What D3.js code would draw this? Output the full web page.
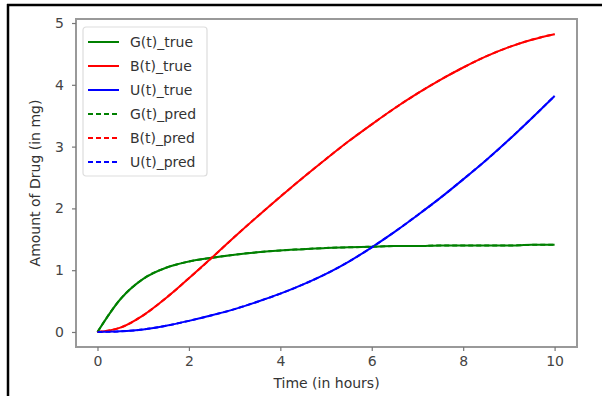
<!DOCTYPE html>
<html>
<head>
<meta charset="utf-8">
<script src="https://cdn.jsdelivr.net/npm/d3@7"></script>
<style>
  body { margin: 0; background: #fff; }
  svg { display: block; }
  text { font-family: "DejaVu Sans", sans-serif; }
</style>
</head>
<body>
<div id="chart"></div>
<script>
// time axis (hours)
const times = [0, 0.5, 1, 1.5, 2, 2.5, 3, 3.5, 4, 4.5, 5, 5.5, 6, 6.5, 7, 7.5, 8, 8.5, 9, 9.5, 10];

// amounts (mg)
const gTrue = [0, 0.53, 0.86, 1.04, 1.14, 1.20, 1.25, 1.29, 1.32, 1.34, 1.36, 1.37, 1.38, 1.39, 1.39, 1.40, 1.40, 1.40, 1.40, 1.41, 1.41];
const bTrue = [0, 0.07, 0.27, 0.55, 0.87, 1.20, 1.54, 1.87, 2.19, 2.50, 2.80, 3.09, 3.36, 3.62, 3.86, 4.08, 4.28, 4.46, 4.61, 4.73, 4.82];
const uTrue = [0, 0.01, 0.04, 0.10, 0.18, 0.27, 0.37, 0.49, 0.62, 0.77, 0.94, 1.14, 1.37, 1.62, 1.89, 2.17, 2.47, 2.78, 3.11, 3.46, 3.82];
const gPred = [0, 0.53, 0.86, 1.04, 1.14, 1.20, 1.25, 1.29, 1.32, 1.34, 1.36, 1.37, 1.38, 1.39, 1.39, 1.40, 1.40, 1.40, 1.40, 1.41, 1.41];
const bPred = [0, 0.07, 0.27, 0.55, 0.87, 1.20, 1.54, 1.87, 2.19, 2.50, 2.80, 3.09, 3.36, 3.62, 3.86, 4.08, 4.28, 4.46, 4.61, 4.73, 4.82];
const uPred = [0, 0.01, 0.04, 0.10, 0.18, 0.27, 0.37, 0.49, 0.62, 0.77, 0.94, 1.14, 1.37, 1.62, 1.89, 2.17, 2.47, 2.78, 3.11, 3.46, 3.82];

const xTicks = [0, 2, 4, 6, 8, 10];
const yTicks = [0, 1, 2, 3, 4, 5];

const series = [
  {name: "G(t)_true", values: gTrue, color: "#008000", dash: null},
  {name: "B(t)_true", values: bTrue, color: "#ff0000", dash: null},
  {name: "U(t)_true", values: uTrue, color: "#0000ff", dash: null},
  {name: "G(t)_pred", values: gPred, color: "#008000", dash: "5,3"},
  {name: "B(t)_pred", values: bPred, color: "#ff0000", dash: "5,3"},
  {name: "U(t)_pred", values: uPred, color: "#0000ff", dash: "5,3"}
];

const W = 602, H = 396;
const margin = {top: 19, right: 25, bottom: 49, left: 76};
const width = W - margin.left - margin.right,
      height = H - margin.top - margin.bottom;

const svg = d3.select("#chart").append("svg")
  .attr("width", W)
  .attr("height", H);

// black frame (top & left edge of the screenshot)
svg.append("line").attr("x1", 7).attr("x2", W).attr("y1", 5).attr("y2", 5)
  .attr("stroke", "#000").attr("stroke-width", 2.5);
svg.append("line").attr("x1", 8).attr("x2", 8).attr("y1", 4).attr("y2", H)
  .attr("stroke", "#000").attr("stroke-width", 2.5);

const g = svg.append("g")
  .attr("transform", "translate(" + margin.left + "," + margin.top + ")");

const x = d3.scaleLinear().domain([-0.47, 10.49]).range([0, width]);
const y = d3.scaleLinear().domain([-0.243, 5.065]).range([height, 0]);

const line = (vals) => d3.line()
  .x((d, i) => x(times[i]))
  .y(d => y(d))
  .curve(d3.curveMonotoneX)(vals);

series.forEach(s => {
  g.append("path")
    .attr("d", line(s.values))
    .attr("fill", "none")
    .attr("stroke", s.color)
    .attr("stroke-width", 2)
    .attr("stroke-dasharray", s.dash);
});

// frame
g.append("rect")
  .attr("width", width).attr("height", height)
  .attr("fill", "none").attr("stroke", "#999").attr("stroke-width", 2);

const xAxis = g.append("g")
  .attr("transform", "translate(0," + height + ")")
  .call(d3.axisBottom(x).tickValues(xTicks).tickSize(4).tickPadding(5).tickFormat(d3.format("d")));
const yAxis = g.append("g")
  .call(d3.axisLeft(y).tickValues(yTicks).tickSize(4).tickPadding(8).tickFormat(d3.format("d")));

[xAxis, yAxis].forEach(a => {
  a.select(".domain").remove();
  a.selectAll(".tick line").attr("stroke", "#777").attr("stroke-width", 1.2);
  a.selectAll(".tick text").attr("fill", "#444").style("font-size", "14px");
});

g.append("text")
  .attr("x", width / 2).attr("y", height + 41)
  .attr("text-anchor", "middle").attr("fill", "#333")
  .style("font-size", "14px")
  .text("Time (in hours)");

g.append("text")
  .attr("transform", "translate(" + (-36) + "," + (height / 2) + ") rotate(-90)")
  .attr("text-anchor", "middle").attr("fill", "#333")
  .style("font-size", "14px")
  .text("Amount of Drug (in mg)");

// legend
const legend = g.append("g").attr("transform", "translate(7,8)");
legend.append("rect")
  .attr("width", 124).attr("height", 149).attr("rx", 3)
  .attr("fill", "#fff").attr("fill-opacity", 0.8)
  .attr("stroke", "#ddd").attr("stroke-width", 1.2);

series.forEach((s, i) => {
  const row = legend.append("g").attr("transform", "translate(0," + (15 + i * 24) + ")");
  row.append("line")
    .attr("x1", 5).attr("x2", 36)
    .attr("stroke", s.color).attr("stroke-width", 2)
    .attr("stroke-dasharray", s.dash);
  row.append("text")
    .attr("x", 47).attr("dy", "0.35em")
    .attr("fill", "#333").style("font-size", "14px")
    .text(s.name);
});
</script>
</body>
</html>
